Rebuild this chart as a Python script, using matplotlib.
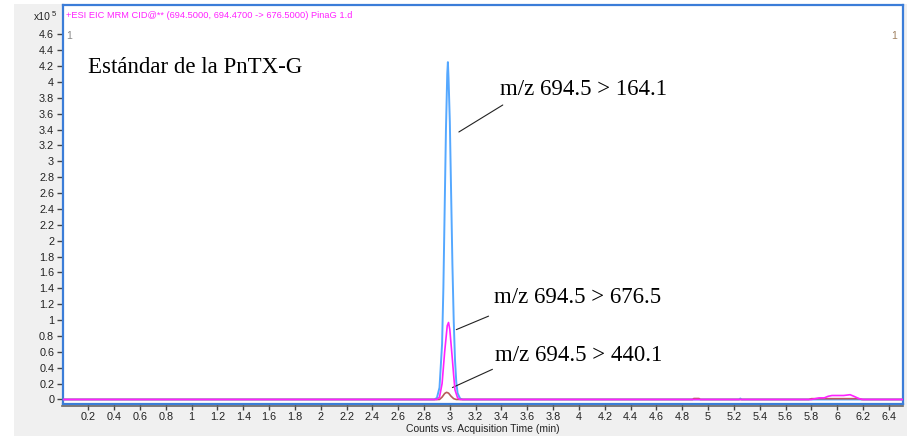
import matplotlib.pyplot as plt
from matplotlib.patches import Rectangle
from matplotlib.lines import Line2D
from matplotlib.ticker import FormatStrFormatter

# Chromatogram traces (time in min, counts in x10^5)
t_164 = [0.0, 2.88, 2.90, 2.92, 2.94, 2.95, 2.96, 2.97, 2.98, 2.985, 2.99, 3.00,
         3.01, 3.02, 3.03, 3.04, 3.05, 3.06, 3.08, 3.10, 5.24, 5.25, 5.26, 6.51]
y_164 = [0.0, 0.0, 0.02, 0.15, 0.7, 1.4, 2.4, 3.4, 4.1, 4.25, 4.05, 3.5,
         2.6, 1.7, 1.0, 0.5, 0.22, 0.08, 0.01, 0.0, 0.0, 0.012, 0.0, 0.0]

t_440 = [0.0, 2.92, 2.94, 2.96, 2.975, 2.99, 3.01, 3.03, 3.05, 4.88, 4.89, 4.93,
         4.94, 5.78, 5.80, 6.17, 6.19, 6.51]
y_440 = [0.0, 0.0, 0.03, 0.075, 0.09, 0.08, 0.04, 0.01, 0.0, 0.0, 0.012, 0.012,
         0.0, 0.0, 0.01, 0.01, 0.0, 0.0]

t_676 = [0.0, 2.90, 2.92, 2.94, 2.96, 2.98, 2.99, 3.00, 3.02, 3.03, 3.04, 3.06,
         3.08, 5.80, 5.83, 5.86, 5.90, 5.93, 5.96, 6.05, 6.10, 6.13, 6.17, 6.20, 6.51]
y_676 = [0.0, 0.0, 0.03, 0.2, 0.6, 0.93, 0.97, 0.88, 0.5, 0.3, 0.12, 0.02,
         0.0, 0.0, 0.01, 0.02, 0.02, 0.04, 0.05, 0.05, 0.06, 0.04, 0.01, 0.0, 0.0]

x_ticks = [round(0.2 * i, 1) for i in range(1, 33)]
y_ticks = [round(0.2 * i, 1) for i in range(0, 24)]

W, H = 907, 436
fig = plt.figure(figsize=(W / 100, H / 100), dpi=100)
fig.patch.set_facecolor('white')
# grey window background
fig.patches.append(Rectangle((14 / W, 0), 1, 1 - 4 / H, transform=fig.transFigure,
                             facecolor='#f0f0f0', edgecolor='none', zorder=-10))

ax = fig.add_axes([62.5 / W, (H - 404) / H, (903 - 62.5) / W, 399 / H])
ax.set_facecolor('white')
ax.set_xlim(0, 6.51)
ax.set_ylim(-0.057, 4.97)

ax.plot(t_164, y_164, color='#55a8ff', lw=1.4, zorder=3)
ax.plot(t_440, y_440, color='#b85a5a', lw=1.2, zorder=4)
ax.plot(t_676, y_676, color='#ff22ff', lw=1.2, zorder=5)

for s in ax.spines.values():
    s.set_color('#3b7dd8')
    s.set_linewidth(1.6)

tick_font = {'family': 'Liberation Sans', 'size': 7.5}
ax.set_xticks(x_ticks)
ax.set_yticks(y_ticks)
ax.xaxis.set_major_formatter(FormatStrFormatter('%g'))
ax.yaxis.set_major_formatter(FormatStrFormatter('%g'))
ax.tick_params(axis='both', direction='out', length=4, width=1, color='#444444',
               labelcolor='#222222', labelsize=7.8, pad=2)
for lab in ax.get_xticklabels() + ax.get_yticklabels():
    lab.set_family('Liberation Sans')

# grey axis line beneath the blue frame
fig.lines.append(Line2D([62 / W, 903 / W], [(H - 406) / H] * 2, transform=fig.transFigure,
                        color='#666666', lw=1.2))

ax.set_xlabel('Counts vs. Acquisition Time (min)', fontdict=tick_font, color='#222222', labelpad=1)

fig.text(34 / W, 1 - 17 / H, 'x10', fontdict=tick_font, color='#222222', va='center')
fig.text(52 / W, 1 - 14 / H, '5', family='Liberation Sans', size=5.5, color='#222222', va='center')

ax.text(0.004, 0.985, '+ESI EIC MRM CID@** (694.5000, 694.4700 -> 676.5000) PinaG 1.d',
        transform=ax.transAxes, color='#ff22ff', family='Liberation Sans', size=6.7, va='top')
ax.text(0.004, 0.935, '1', transform=ax.transAxes, color='#888888',
        family='Liberation Sans', size=7.5, va='top')
ax.text(0.993, 0.935, '1', transform=ax.transAxes, color='#a08060',
        family='Liberation Sans', size=7.5, va='top', ha='right')

ax.text(0.2, 4.18, 'Estándar de la PnTX-G', family='Liberation Serif', size=16.5, va='center')

serif = {'family': 'Liberation Serif', 'size': 16.5}
arrow = dict(arrowstyle='-', color='#222222', lw=0.8, shrinkA=0, shrinkB=0)
ax.annotate('', xy=(3.07, 3.37), xytext=(3.41, 3.71), arrowprops=arrow)
ax.text(3.39, 3.90, 'm/z 694.5 > 164.1', fontdict=serif, va='center')
ax.annotate('', xy=(3.05, 0.88), xytext=(3.30, 1.05), arrowprops=arrow)
ax.text(3.34, 1.28, 'm/z 694.5 > 676.5', fontdict=serif, va='center')
ax.annotate('', xy=(3.02, 0.15), xytext=(3.33, 0.38), arrowprops=arrow)
ax.text(3.35, 0.56, 'm/z 694.5 > 440.1', fontdict=serif, va='center')

fig.savefig('out.png', dpi=100)
